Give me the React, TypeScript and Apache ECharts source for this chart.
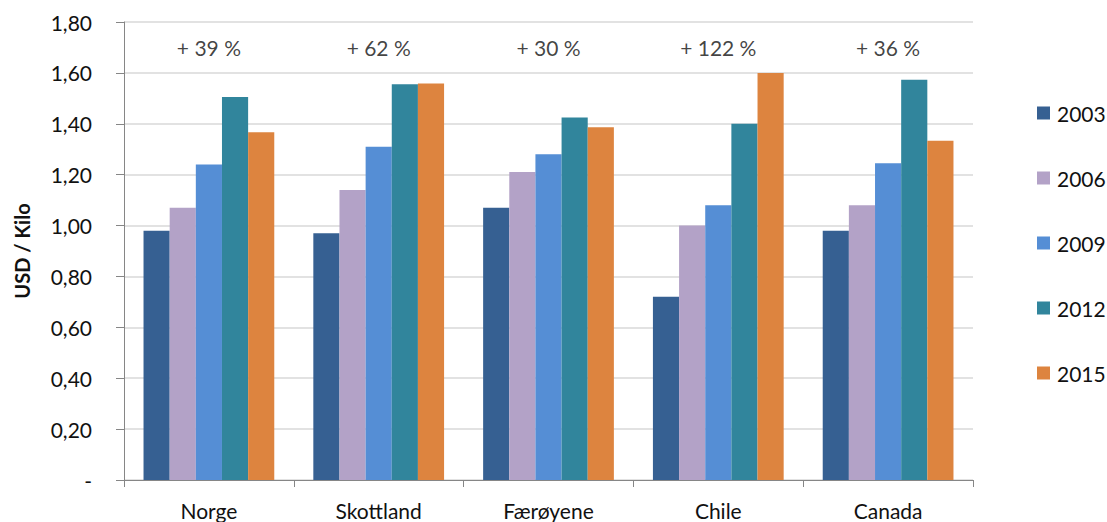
import React, { useEffect, useRef } from "react";
import * as echarts from "echarts";

const categories = ["Norge", "Skottland", "Færøyene", "Chile", "Canada"];
const years = ["2003", "2006", "2009", "2012", "2015"];
const v2003 = [0.98, 0.97, 1.07, 0.72, 0.98];
const v2006 = [1.07, 1.14, 1.21, 1.0, 1.08];
const v2009 = [1.24, 1.31, 1.28, 1.08, 1.245];
const v2012 = [1.505, 1.555, 1.425, 1.4, 1.573];
const v2015 = [1.367, 1.558, 1.386, 1.6, 1.333];
const changeLabels = ["+ 39 %", "+ 62 %", "+ 30 %", "+ 122 %", "+ 36 %"];
const labelLevel = [1.7, 1.7, 1.7, 1.7, 1.7];
const colors = ["#366092", "#B3A2C7", "#558ED5", "#31859C", "#DD843F"];

const FONT = "Lato, 'Open Sans', sans-serif";
const TXT = "#111111";

export default function App() {
  const ref = useRef<HTMLDivElement>(null);
  useEffect(() => {
    if (!ref.current) return;
    const chart = echarts.init(ref.current, null, { renderer: "svg" });
    const seriesValues = [v2003, v2006, v2009, v2012, v2015];
    const bars = years.map((y, i) => ({
      name: y,
      type: "bar",
      data: seriesValues[i],
      barGap: "0%",
      barCategoryGap: "23%",
      itemStyle: { color: colors[i] },
    }));
    chart.setOption({
      animation: false,
      backgroundColor: "#ffffff",
      textStyle: { fontFamily: FONT },
      grid: { left: 124, right: 134, top: 22, bottom: 42, containLabel: false },
      legend: {
        data: years,
        orient: "vertical",
        left: 1032,
        top: 97,
        itemWidth: 13,
        itemHeight: 13,
        itemGap: 43,
        icon: "rect",
        textStyle: { fontSize: 21, color: TXT, fontFamily: FONT, lineHeight: 22, padding: [0, 0, 0, 2] },
      },
      xAxis: {
        type: "category",
        data: categories,
        axisLine: { lineStyle: { color: "#868686", width: 1 } },
        axisTick: { show: true, length: 7, lineStyle: { color: "#868686" } },
        axisLabel: { fontSize: 21, color: TXT, margin: 20, fontFamily: FONT },
      },
      yAxis: {
        type: "value",
        min: 0,
        max: 1.8,
        interval: 0.2,
        name: "USD / Kilo",
        nameLocation: "middle",
        nameRotate: 90,
        nameGap: 92,
        nameTextStyle: { fontSize: 20, fontWeight: "bold", color: TXT, fontFamily: FONT },
        axisLine: { show: true, lineStyle: { color: "#868686" } },
        axisTick: { show: true, length: 8, lineStyle: { color: "#868686" } },
        axisLabel: {
          fontSize: 21,
          color: TXT,
          margin: 32,
          fontFamily: FONT,
          formatter: (v: number) => (v === 0 ? "-" : v.toFixed(2).replace(".", ",")),
        },
        splitLine: { lineStyle: { color: "#D9D9D9", width: 1.5 } },
      },
      series: [
        ...bars,
        {
          name: "change",
          type: "scatter",
          data: labelLevel,
          symbolSize: 0,
          silent: true,
          label: {
            show: true,
            position: "inside",
            fontSize: 21,
            color: TXT,
            fontFamily: FONT,
            formatter: (p: any) => changeLabels[p.dataIndex],
          },
        },
      ],
    });
    return () => chart.dispose();
  }, []);
  return (
    <div
      ref={ref}
      style={{ position: "fixed", left: 0, top: 0, width: 1107, height: 522 }}
    />
  );
}
